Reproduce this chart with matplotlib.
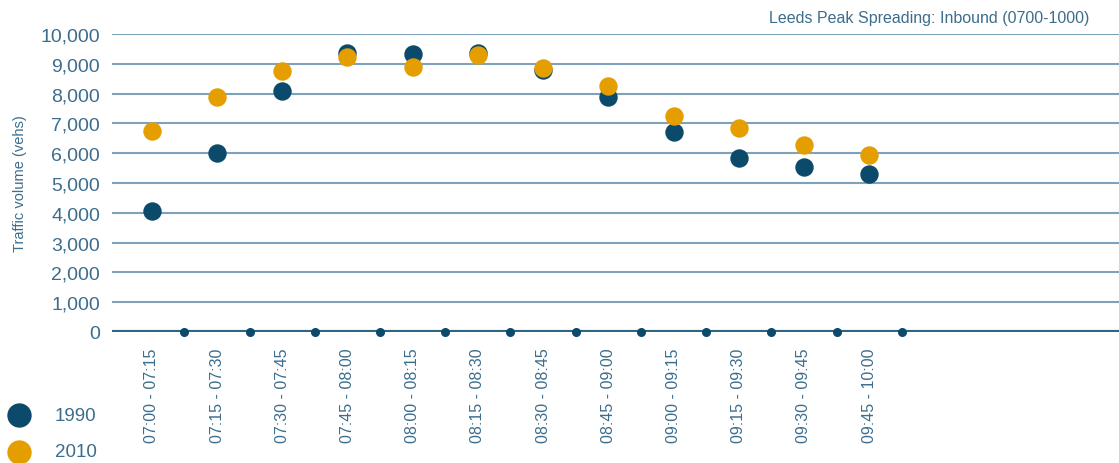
import matplotlib.pyplot as plt
import numpy as np

plt.rcParams['font.family'] = ['Liberation Sans', 'DejaVu Sans']

periods = ['07:00 - 07:15', '07:15 - 07:30', '07:30 - 07:45', '07:45 - 08:00',
           '08:00 - 08:15', '08:15 - 08:30', '08:30 - 08:45', '08:45 - 09:00',
           '09:00 - 09:15', '09:15 - 09:30', '09:30 - 09:45', '09:45 - 10:00']
vol_1990 = [4050, 6000, 8080, 9350, 9320, 9350, 8800, 7900, 6700, 5850, 5550, 5300]
vol_2010 = [6730, 7900, 8750, 9230, 8900, 9290, 8850, 8250, 7240, 6830, 6270, 5930]

dark = '#0b4a6a'
orange = '#e59e00'
txt = '#3c6d8c'
grid = '#7fa2bc'

fig = plt.figure(figsize=(11.19, 4.64), dpi=100)
ax = fig.add_axes([112 / 1119, 1 - 333 / 464, 1 - 112 / 1119, (333 - 35) / 464])

x = np.arange(len(periods))
ax.scatter(x, vol_1990, s=150, color=dark, zorder=3, clip_on=False, label='1990')
ax.scatter(x, vol_2010, s=150, color=orange, zorder=4, clip_on=False, label='2010')

for v in range(1000, 10001, 1000):
    ax.axhline(v, color=grid, lw=1.5, zorder=1)
ax.axhline(0, color='#2e6587', lw=3, zorder=2)
ax.scatter(x + 0.5, np.zeros(len(x)), s=30, color=dark, zorder=3, clip_on=False)

ax.set_xlim(-0.61, 14.83)
ax.set_ylim(0, 10000)
ax.set_yticks(range(0, 10001, 1000))
ax.set_yticklabels([f'{v:,}' for v in range(0, 10001, 1000)], fontsize=14, color=txt)
ax.set_xticks(x)
ax.set_xticklabels(periods, rotation=90, fontsize=11.5, color=txt, va='top')
ax.tick_params(axis='both', length=0)
ax.tick_params(axis='y', pad=8.5)
ax.tick_params(axis='x', pad=11)
for s in ax.spines.values():
    s.set_visible(False)

ax.set_ylabel('Traffic volume (vehs)', fontsize=10.5, color=txt, labelpad=10)
fig.text(1089 / 1119, 1 - 18 / 464, 'Leeds Peak Spreading: Inbound (0700-1000)',
         ha='right', va='center', fontsize=11.5, color=txt)

fig.legend(loc='lower left', bbox_to_anchor=(0.0, -5 / 464), frameon=False, fontsize=13.5,
           labelcolor=txt, markerscale=1.35, handlelength=1.2, handletextpad=1.33,
           labelspacing=1.05, borderaxespad=0.0, borderpad=0.4)

fig.savefig('out.png', dpi=100)
